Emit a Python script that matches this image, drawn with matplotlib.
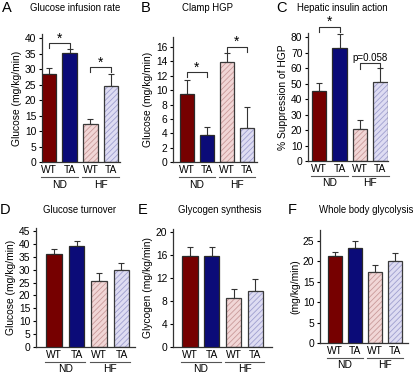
import matplotlib
matplotlib.use('Agg')
import matplotlib.pyplot as plt
import matplotlib.transforms as mtransforms
from matplotlib.lines import Line2D

plt.rcParams['font.family'] = ['Liberation Sans', 'DejaVu Sans']
plt.rcParams['hatch.linewidth'] = 0.6

# data (ND WT, ND TA, HF WT, HF TA)
bar_labels = ['WT', 'TA', 'WT', 'TA']
groups = ['ND', 'HF']

infusion = [28.3, 35.3, 12.2, 24.6]
infusion_err = [1.9, 1.2, 1.8, 3.9]
clamp_hgp = [9.4, 3.7, 13.9, 4.8]
clamp_hgp_err = [2.0, 1.2, 1.3, 2.9]
hepatic = [45.0, 73.0, 20.5, 51.0]
hepatic_err = [5.5, 9.0, 6.0, 9.0]
turnover = [36.3, 39.3, 25.8, 29.8]
turnover_err = [1.6, 1.9, 2.8, 3.0]
glycogen = [15.9, 15.9, 8.6, 9.8]
glycogen_err = [1.6, 1.6, 1.5, 2.1]
glycolysis = [21.3, 23.2, 17.4, 20.0]
glycolysis_err = [0.9, 1.8, 1.7, 2.1]

face = ['#760000', '#0b0b78', '#f1d6d6', '#dedcf2']
hatch_col = [None, None, '#c99a9a', '#9f9fcf']
xpos = [0, 1, 2, 3]

W, H = 416, 377
fig = plt.figure(figsize=(W / 100, H / 100), dpi=100)


def px_axes(left, right, bottom, top):
    return fig.add_axes([left / W, (H - bottom) / H, (right - left) / W, (bottom - top) / H])


def offset(ax, px):
    return ax.get_xaxis_transform() + mtransforms.ScaledTranslation(0, -px / 100, fig.dpi_scale_trans)


def panel(box, vals, errs, ylim, ticks, xlim, ylabel):
    ax = px_axes(*box)
    for i, x in enumerate(xpos):
        if hatch_col[i]:
            ax.bar(x, vals[i], 0.7, color=face[i], edgecolor=hatch_col[i], hatch='//////', linewidth=0, zorder=2)
            ax.bar(x, vals[i], 0.7, fill=False, edgecolor='#3a3a3a', linewidth=0.9, zorder=3)
        else:
            ax.bar(x, vals[i], 0.7, color=face[i], edgecolor='#2a2a2a', linewidth=0.9, zorder=3)
        ax.errorbar(x, vals[i], yerr=[[0], [errs[i]]], color='#333333', elinewidth=0.8,
                    capsize=2.2, capthick=0.8, zorder=1)
    ax.set_xlim(*xlim)
    ax.set_ylim(*ylim)
    ax.set_yticks(ticks)
    ax.tick_params(axis='y', direction='out', length=2.5, width=0.8, labelsize=7.4, pad=1.5)
    ax.set_xticks(xpos)
    ax.set_xticklabels(bar_labels)
    ax.tick_params(axis='x', length=0, labelsize=7.4, pad=2.5)
    for s in ['top', 'right']:
        ax.spines[s].set_visible(False)
    for s in ['left', 'bottom']:
        ax.spines[s].set_linewidth(0.9)
        ax.spines[s].set_color('#333333')
    ax.set_ylabel(ylabel, fontsize=7.4, labelpad=2)
    for g, (a, b) in enumerate([(0, 1), (2, 3)]):
        ax.add_line(Line2D([xpos[a] - 0.4, xpos[b] + 0.4], [0, 0], transform=offset(ax, 15),
                           color='#555555', linewidth=0.8, clip_on=False))
        ax.text((xpos[a] + xpos[b]) / 2, 0, groups[g], transform=offset(ax, 17.5),
                ha='center', va='top', fontsize=7.4)
    return ax


def bracket(ax, a, b, y, drop, label):
    ax.plot([xpos[a], xpos[a], xpos[b], xpos[b]], [y - drop, y, y, y - drop],
            color='#333333', linewidth=0.8, clip_on=False)
    if label == '*':
        ax.annotate(label, ((xpos[a] + xpos[b]) / 2, y), xytext=(0, -1.5), textcoords='offset points',
                    ha='center', va='bottom', fontsize=10, annotation_clip=False)
    else:
        ax.annotate(label, ((xpos[a] + xpos[b]) / 2, y), xytext=(0, 0.5), textcoords='offset points',
                    ha='center', va='bottom', fontsize=7, annotation_clip=False)


ax = panel((42, 120, 162, 34), infusion, infusion_err, (0, 41.3), range(0, 41, 5), (-0.34, 3.43),
           'Glucose (mg/kg/min)')
bracket(ax, 0, 1, 38.3, 1.6, '*')
bracket(ax, 2, 3, 30.5, 1.6, '*')

ax = panel((173, 257, 162, 37), clamp_hgp, clamp_hgp_err, (0, 17.4), range(0, 17, 2), (-0.7, 3.5),
           'Glucose (mg/kg/min)')
bracket(ax, 0, 1, 12.5, 0.7, '*')
bracket(ax, 2, 3, 16.0, 0.7, '*')

ax = panel((308, 388, 161, 33), hepatic, hepatic_err, (0, 82.6), range(0, 81, 10), (-0.54, 3.37),
           '% Suppression of HGP')
bracket(ax, 0, 1, 86.5, 3.5, '*')
bracket(ax, 2, 3, 63.0, 3.5, 'p=0.058')

panel((36, 135, 347, 228), turnover, turnover_err, (0, 46.2), range(0, 46, 5), (-0.8, 3.6),
      'Glucose (mg/kg/min)')
panel((173, 272, 347, 229), glycogen, glycogen_err, (0, 20.6), range(0, 21, 4), (-0.78, 3.76),
      'Glycogen (mg/kg/min)')
panel((320, 408, 343, 230), glycolysis, glycolysis_err, (0, 27.7), range(0, 26, 5), (-0.75, 3.65),
      '(mg/kg/min)')

titles = [('A', 2, 8, 'Glucose infusion rate', 75),
          ('B', 141, 8, 'Clamp HGP', 207),
          ('C', 276, 8, 'Hepatic insulin action', 342),
          ('D', 0, 210, 'Glucose turnover', 80),
          ('E', 138, 210, 'Glycogen synthesis', 220),
          ('F', 288, 210, 'Whole body glycolysis', 366)]
for letter, lx, ty, title, tx in titles:
    fig.text(lx / W, (H - ty) / H, letter, fontsize=10.5, ha='left', va='center')
    fig.text(tx / W, (H - ty) / H, title, fontsize=6.9, ha='center', va='center')

fig.savefig('out.png', dpi=100)
